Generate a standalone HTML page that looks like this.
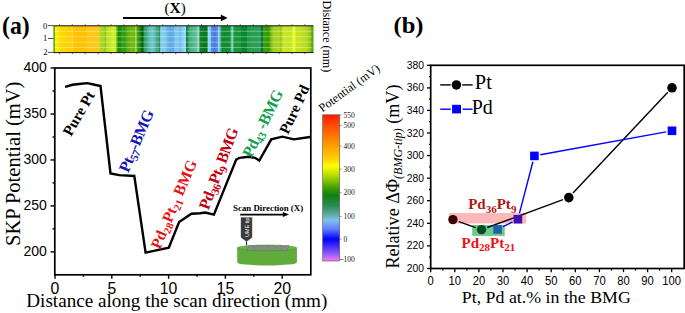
<!DOCTYPE html>
<html><head><meta charset="utf-8">
<style>
html,body{margin:0;padding:0;background:#fff;}
body{width:685px;height:313px;overflow:hidden;}
svg{display:block;}
.serif{font-family:"Liberation Serif",serif;}
.sans{font-family:"Liberation Sans",sans-serif;}
</style></head><body>
<svg width="685" height="313" viewBox="0 0 685 313">
<defs>
<linearGradient id="strip" x1="53.4" x2="313.7" y1="0" y2="0" gradientUnits="userSpaceOnUse">
<stop offset="0.0000" stop-color="#3c9a10"/>
<stop offset="0.0046" stop-color="#6cb000"/>
<stop offset="0.0081" stop-color="#ffee10"/>
<stop offset="0.0234" stop-color="#ffe408"/>
<stop offset="0.0292" stop-color="#ffd800"/>
<stop offset="0.0676" stop-color="#ffcf00"/>
<stop offset="0.0753" stop-color="#ffc400"/>
<stop offset="0.1214" stop-color="#ffbf00"/>
<stop offset="0.1291" stop-color="#ffc810"/>
<stop offset="0.1733" stop-color="#fdc818"/>
<stop offset="0.1783" stop-color="#c0dc20"/>
<stop offset="0.1809" stop-color="#a8d820"/>
<stop offset="0.1944" stop-color="#a4d41e"/>
<stop offset="0.1990" stop-color="#8cc418"/>
<stop offset="0.2040" stop-color="#b8e020"/>
<stop offset="0.2174" stop-color="#c4e626"/>
<stop offset="0.2290" stop-color="#d4f030"/>
<stop offset="0.2386" stop-color="#c8ea28"/>
<stop offset="0.2443" stop-color="#60b010"/>
<stop offset="0.2501" stop-color="#149010"/>
<stop offset="0.2578" stop-color="#1a900f"/>
<stop offset="0.2655" stop-color="#40a010"/>
<stop offset="0.2731" stop-color="#309810"/>
<stop offset="0.2847" stop-color="#58b010"/>
<stop offset="0.2981" stop-color="#70b810"/>
<stop offset="0.3135" stop-color="#70b810"/>
<stop offset="0.3173" stop-color="#98cc38"/>
<stop offset="0.3212" stop-color="#50a810"/>
<stop offset="0.3289" stop-color="#289410"/>
<stop offset="0.3365" stop-color="#108010"/>
<stop offset="0.3415" stop-color="#005800"/>
<stop offset="0.3465" stop-color="#207a40"/>
<stop offset="0.3500" stop-color="#30a070"/>
<stop offset="0.3577" stop-color="#40a880"/>
<stop offset="0.3692" stop-color="#60c0b0"/>
<stop offset="0.3807" stop-color="#70c8d0"/>
<stop offset="0.3922" stop-color="#58b4a8"/>
<stop offset="0.3980" stop-color="#40a880"/>
<stop offset="0.4057" stop-color="#40a080"/>
<stop offset="0.4088" stop-color="#208050"/>
<stop offset="0.4118" stop-color="#80d0e8"/>
<stop offset="0.4287" stop-color="#80cce8"/>
<stop offset="0.4364" stop-color="#70b8e8"/>
<stop offset="0.4479" stop-color="#60a8e8"/>
<stop offset="0.4614" stop-color="#64acea"/>
<stop offset="0.4672" stop-color="#80c8f0"/>
<stop offset="0.4806" stop-color="#80c8f0"/>
<stop offset="0.4864" stop-color="#70b8f0"/>
<stop offset="0.4979" stop-color="#88d0f0"/>
<stop offset="0.5075" stop-color="#90e0f0"/>
<stop offset="0.5106" stop-color="#107040"/>
<stop offset="0.5152" stop-color="#208850"/>
<stop offset="0.5209" stop-color="#40a870"/>
<stop offset="0.5363" stop-color="#50b890"/>
<stop offset="0.5498" stop-color="#60c0a0"/>
<stop offset="0.5555" stop-color="#90d0b0"/>
<stop offset="0.5601" stop-color="#60b080"/>
<stop offset="0.5643" stop-color="#108028"/>
<stop offset="0.5882" stop-color="#007820"/>
<stop offset="0.5920" stop-color="#40a070"/>
<stop offset="0.5959" stop-color="#90e0f0"/>
<stop offset="0.6035" stop-color="#80c8f0"/>
<stop offset="0.6074" stop-color="#5888e8"/>
<stop offset="0.6208" stop-color="#4878e0"/>
<stop offset="0.6304" stop-color="#5c90e8"/>
<stop offset="0.6343" stop-color="#90d0f0"/>
<stop offset="0.6400" stop-color="#70c0c0"/>
<stop offset="0.6431" stop-color="#40a080"/>
<stop offset="0.6477" stop-color="#108a30"/>
<stop offset="0.6784" stop-color="#109030"/>
<stop offset="0.6823" stop-color="#50b090"/>
<stop offset="0.6873" stop-color="#80d8d0"/>
<stop offset="0.6911" stop-color="#50b080"/>
<stop offset="0.6957" stop-color="#189838"/>
<stop offset="0.7188" stop-color="#189838"/>
<stop offset="0.7226" stop-color="#0a8530"/>
<stop offset="0.7418" stop-color="#0a8530"/>
<stop offset="0.7457" stop-color="#209848"/>
<stop offset="0.7630" stop-color="#28a050"/>
<stop offset="0.7879" stop-color="#28a050"/>
<stop offset="0.7918" stop-color="#30a070"/>
<stop offset="0.7956" stop-color="#2a9060"/>
<stop offset="0.7995" stop-color="#107040"/>
<stop offset="0.8045" stop-color="#107038"/>
<stop offset="0.8071" stop-color="#30a010"/>
<stop offset="0.8167" stop-color="#40a000"/>
<stop offset="0.8244" stop-color="#309000"/>
<stop offset="0.8321" stop-color="#58a808"/>
<stop offset="0.8379" stop-color="#80c010"/>
<stop offset="0.8456" stop-color="#a0d020"/>
<stop offset="0.8609" stop-color="#a8d420"/>
<stop offset="0.8667" stop-color="#b0d820"/>
<stop offset="0.8725" stop-color="#98c818"/>
<stop offset="0.8782" stop-color="#a8d41e"/>
<stop offset="0.8821" stop-color="#c8e828"/>
<stop offset="0.9013" stop-color="#c4e626"/>
<stop offset="0.9166" stop-color="#c8e828"/>
<stop offset="0.9216" stop-color="#e8ff30"/>
<stop offset="0.9274" stop-color="#e4fa2c"/>
<stop offset="0.9320" stop-color="#c8e420"/>
<stop offset="0.9474" stop-color="#c4e220"/>
<stop offset="0.9666" stop-color="#b8dc20"/>
<stop offset="0.9781" stop-color="#a8d41c"/>
<stop offset="0.9877" stop-color="#88c418"/>
<stop offset="0.9927" stop-color="#58a810"/>
<stop offset="1.0000" stop-color="#48a010"/>
</linearGradient>
<linearGradient id="cbar" x1="0" x2="0" y1="114.8" y2="261" gradientUnits="userSpaceOnUse">
<stop offset="0" stop-color="#ff1a00"/>
<stop offset="0.07" stop-color="#ff4a00"/>
<stop offset="0.215" stop-color="#ffa000"/>
<stop offset="0.3" stop-color="#ffd000"/>
<stop offset="0.35" stop-color="#ffff00"/>
<stop offset="0.42" stop-color="#b0d800"/>
<stop offset="0.5" stop-color="#40a000"/>
<stop offset="0.55" stop-color="#108010"/>
<stop offset="0.62" stop-color="#2a8a50"/>
<stop offset="0.68" stop-color="#60a8a0"/>
<stop offset="0.72" stop-color="#80c0e8"/>
<stop offset="0.78" stop-color="#6080ff"/>
<stop offset="0.85" stop-color="#0000ff"/>
<stop offset="0.92" stop-color="#6040ff"/>
<stop offset="1" stop-color="#f080f0"/>
</linearGradient>
</defs>

<!-- ===== Panel (a) ===== -->
<text id="a_lbl" class="serif" x="2" y="34.3" font-size="24.5" font-weight="bold" textLength="27.8" lengthAdjust="spacingAndGlyphs">(a)</text>

<!-- (X) arrow -->
<text id="x_lbl" class="serif" x="164.6" y="12.6" font-size="15">(<tspan font-weight="bold" font-size="15.5">X</tspan>)</text>
<line x1="123" y1="18" x2="222" y2="18" stroke="#000" stroke-width="1.8"/>
<polygon points="220.8,14.4 227.6,17.9 220.8,21.3" fill="#000"/>

<!-- strip -->
<rect x="53.4" y="25.8" width="260.1" height="26.8" fill="url(#strip)"/>
<g stroke="#fff" stroke-opacity="0.38" stroke-width="0.9">
<line x1="54.5" y1="31.3" x2="312.5" y2="31.3"/>
<line x1="54.5" y1="36.7" x2="312.5" y2="36.7"/>
<line x1="54.5" y1="42.1" x2="312.5" y2="42.1"/>
<line x1="54.5" y1="47.5" x2="312.5" y2="47.5"/>
<line x1="72.2" y1="26" x2="72.2" y2="52.4"/>
<line x1="135.8" y1="26" x2="135.8" y2="52.4"/>
<line x1="198.3" y1="26" x2="198.3" y2="52.4"/>
</g>
<g stroke="#333" stroke-width="0.7">
<line x1="59.4" y1="52.6" x2="59.4" y2="54.2"/><line x1="59.4" y1="24.2" x2="59.4" y2="25.8"/>
<line x1="72.3" y1="52.6" x2="72.3" y2="54.2"/><line x1="72.3" y1="24.2" x2="72.3" y2="25.8"/>
<line x1="85.2" y1="52.6" x2="85.2" y2="54.2"/><line x1="85.2" y1="24.2" x2="85.2" y2="25.8"/>
<line x1="98.2" y1="52.6" x2="98.2" y2="54.2"/><line x1="98.2" y1="24.2" x2="98.2" y2="25.8"/>
<line x1="111.1" y1="52.6" x2="111.1" y2="54.2"/><line x1="111.1" y1="24.2" x2="111.1" y2="25.8"/>
<line x1="124.0" y1="52.6" x2="124.0" y2="54.2"/><line x1="124.0" y1="24.2" x2="124.0" y2="25.8"/>
<line x1="136.9" y1="52.6" x2="136.9" y2="54.2"/><line x1="136.9" y1="24.2" x2="136.9" y2="25.8"/>
<line x1="149.8" y1="52.6" x2="149.8" y2="54.2"/><line x1="149.8" y1="24.2" x2="149.8" y2="25.8"/>
<line x1="162.8" y1="52.6" x2="162.8" y2="54.2"/><line x1="162.8" y1="24.2" x2="162.8" y2="25.8"/>
<line x1="175.7" y1="52.6" x2="175.7" y2="54.2"/><line x1="175.7" y1="24.2" x2="175.7" y2="25.8"/>
<line x1="188.6" y1="52.6" x2="188.6" y2="54.2"/><line x1="188.6" y1="24.2" x2="188.6" y2="25.8"/>
<line x1="201.5" y1="52.6" x2="201.5" y2="54.2"/><line x1="201.5" y1="24.2" x2="201.5" y2="25.8"/>
<line x1="214.4" y1="52.6" x2="214.4" y2="54.2"/><line x1="214.4" y1="24.2" x2="214.4" y2="25.8"/>
<line x1="227.4" y1="52.6" x2="227.4" y2="54.2"/><line x1="227.4" y1="24.2" x2="227.4" y2="25.8"/>
<line x1="240.3" y1="52.6" x2="240.3" y2="54.2"/><line x1="240.3" y1="24.2" x2="240.3" y2="25.8"/>
<line x1="253.2" y1="52.6" x2="253.2" y2="54.2"/><line x1="253.2" y1="24.2" x2="253.2" y2="25.8"/>
<line x1="266.1" y1="52.6" x2="266.1" y2="54.2"/><line x1="266.1" y1="24.2" x2="266.1" y2="25.8"/>
<line x1="279.0" y1="52.6" x2="279.0" y2="54.2"/><line x1="279.0" y1="24.2" x2="279.0" y2="25.8"/>
<line x1="292.0" y1="52.6" x2="292.0" y2="54.2"/><line x1="292.0" y1="24.2" x2="292.0" y2="25.8"/>
<line x1="304.9" y1="52.6" x2="304.9" y2="54.2"/><line x1="304.9" y1="24.2" x2="304.9" y2="25.8"/>
</g>
<line x1="53.4" y1="25.8" x2="313.5" y2="25.8" stroke="#111" stroke-width="1"/>
<line x1="53.4" y1="52.6" x2="313.5" y2="52.6" stroke="#111" stroke-width="1"/>
<g stroke="#222" stroke-width="0.8">
<line x1="48" y1="25.6" x2="53.4" y2="25.6"/>
<line x1="48" y1="38.5" x2="53.4" y2="38.5"/>
<line x1="48" y1="52.4" x2="53.4" y2="52.4"/>
</g>
<g class="serif" font-size="8.6" text-anchor="end" fill="#000">
<text x="47.4" y="29">0</text>
<text x="47.2" y="40.7">1</text>
<text x="47.6" y="54.6">2</text>
</g>
<text id="dist" class="serif" font-size="12" transform="translate(322.8,0.5) rotate(90)">Distance (mm)</text>

<!-- main axes (a) -->
<g stroke="#000" stroke-width="1.7" fill="none">
<rect x="54.8" y="68" width="256" height="206.8"/>
</g>
<g stroke="#000" stroke-width="1.4">
<!-- y major -->
<line x1="50.5" y1="68" x2="55" y2="68"/>
<line x1="50.5" y1="114" x2="55" y2="114"/>
<line x1="50.5" y1="159.95" x2="55" y2="159.95"/>
<line x1="50.5" y1="205.9" x2="55" y2="205.9"/>
<line x1="50.5" y1="251.9" x2="55" y2="251.9"/>
<!-- y minor -->
<line x1="52.5" y1="91" x2="55" y2="91"/>
<line x1="52.5" y1="137" x2="55" y2="137"/>
<line x1="52.5" y1="182.9" x2="55" y2="182.9"/>
<line x1="52.5" y1="228.9" x2="55" y2="228.9"/>
<!-- x major -->
<line x1="55" y1="274.8" x2="55" y2="278.8"/>
<line x1="111.8" y1="274.8" x2="111.8" y2="278.8"/>
<line x1="168.6" y1="274.8" x2="168.6" y2="278.8"/>
<line x1="225.4" y1="274.8" x2="225.4" y2="278.8"/>
<line x1="282.2" y1="274.8" x2="282.2" y2="278.8"/>
<!-- x minor -->
<line x1="83.4" y1="274.8" x2="83.4" y2="276.8"/>
<line x1="140.2" y1="274.8" x2="140.2" y2="276.8"/>
<line x1="197" y1="274.8" x2="197" y2="276.8"/>
<line x1="253.8" y1="274.8" x2="253.8" y2="276.8"/>
</g>
<g class="sans" font-size="14" text-anchor="end">
<text x="46.9" y="72">400</text>
<text x="46.9" y="118">350</text>
<text x="46.9" y="164">300</text>
<text x="46.9" y="209.9">250</text>
<text x="46.9" y="255.9">200</text>
</g>
<g class="sans" font-size="15.8" text-anchor="middle">
<text x="55" y="293.7">0</text>
<text x="111.8" y="293.7">5</text>
<text x="168.6" y="293.7">10</text>
<text x="225.4" y="293.7">15</text>
<text x="282.2" y="293.7">20</text>
</g>
<text id="xl_a" class="serif" font-size="18" x="26.3" y="307" textLength="301" lengthAdjust="spacingAndGlyphs">Distance along the scan direction (mm)</text>
<text id="skp" class="serif" font-size="20.5" transform="translate(19.5,246) rotate(-90)">SKP Potential (mV)</text>

<!-- curve -->
<polyline fill="none" stroke="#000" stroke-width="2.4" stroke-linejoin="miter" points="65.1,86.8 72.5,84.8 81.3,83.8 87.4,83.1 93.5,84.5 100.5,86 110.5,173.4 119.2,175.1 134.3,176 145.6,252.6 168.8,247.8 179.1,222 191.4,213.7 200.2,213.2 205.2,212.5 213.9,214.7 236.2,159.6 239.6,157.8 248.5,156.7 255,157.8 259.3,160.5 271.3,139.4 282.4,136.7 293.9,139.4 310,137"/>

<!-- annotations -->
<g class="serif" font-weight="bold" font-size="15">
<text id="t1" transform="translate(71,137) rotate(-60)">Pure Pt</text>
<text id="t2" fill="#1515b5" font-size="16" textLength="66" lengthAdjust="spacing" transform="translate(128.3,173.3) rotate(-67)">Pt<tspan font-size="11.3" dy="3.3">57</tspan><tspan dy="-3.3">-BMG</tspan></text>
<text id="t3" fill="#e81010" font-size="15.6" transform="translate(160,250) rotate(-67)">Pd<tspan font-size="10.5" dy="3">28</tspan><tspan dy="-3">Pt</tspan><tspan font-size="10.5" dy="3">21</tspan><tspan dy="-3"> BMG</tspan></text>
<text id="t4" fill="#c00010" font-size="15.8" textLength="86" lengthAdjust="spacing" transform="translate(208.5,210.5) rotate(-69.5)">Pd<tspan font-size="11.2" dy="3.3">36</tspan><tspan dy="-3.3">Pt</tspan><tspan font-size="11.2" dy="3.3">9</tspan><tspan dy="-3.3"> BMG</tspan></text>
<text id="t5" fill="#12a04e" font-size="16" textLength="73" lengthAdjust="spacing" transform="translate(251.5,158.5) rotate(-64)">Pd<tspan font-size="11.3" dy="3.3">43</tspan><tspan dy="-3.3"> -BMG</tspan></text>
<text id="t6" transform="translate(288,135) rotate(-65)">Pure Pd</text>
</g>

<!-- inset -->
<text id="scan" class="serif" font-size="9.2" font-weight="bold" x="233.1" y="211.4" textLength="70" lengthAdjust="spacingAndGlyphs">Scan Direction (X)</text>
<line x1="240.2" y1="214.6" x2="284" y2="214.6" stroke="#000" stroke-width="1.7"/>
<polygon points="282.9,212.1 289,214.6 282.9,217.1" fill="#000"/>
<path d="M241,217.5 H252 V237.4 L246.6,241.6 L241,237.4 Z" fill="#3a3a3a" stroke="#666" stroke-width="0.5"/>
<text class="sans" font-size="5.5" fill="#fff" transform="translate(248.5,237) rotate(-90)">UME tip</text>
<line x1="246.6" y1="241.6" x2="246.6" y2="245.5" stroke="#000" stroke-width="0.9"/>
<path d="M237.2,248 V262.5 A29.85,3 0 0 0 296.9,262.5 V248 Z" fill="#60ab3c"/>
<ellipse cx="267" cy="248" rx="29.85" ry="3" fill="#64b446" stroke="#4a9030" stroke-width="0.5"/>
<g fill="#8a8a8a" stroke="#6a6a6a" stroke-width="0.4">
<polygon points="247,250.5 252,250.5 254,245.5 249,245.5"/>
<polygon points="254,250.5 259,250.5 261,245.5 256,245.5"/>
<polygon points="261,250.5 266,250.5 268,245.5 263,245.5"/>
<polygon points="268,250.5 273,250.5 275,245.5 270,245.5"/>
<polygon points="275,250.5 280,250.5 282,245.5 277,245.5"/>
<polygon points="282,250.5 287,250.5 289,245.5 284,245.5"/>
</g>

<!-- colorbar -->
<rect x="322.7" y="114.8" width="17" height="146.2" fill="url(#cbar)" stroke="#555" stroke-width="0.6"/>
<g stroke="#444" stroke-width="0.6">
<line x1="339.7" y1="114.8" x2="341.5" y2="114.8"/>
<line x1="339.7" y1="125.5" x2="341.5" y2="125.5"/>
<line x1="339.7" y1="146.2" x2="341.5" y2="146.2"/>
<line x1="339.7" y1="169.2" x2="341.5" y2="169.2"/>
<line x1="339.7" y1="192.7" x2="341.5" y2="192.7"/>
<line x1="339.7" y1="216.4" x2="341.5" y2="216.4"/>
<line x1="339.7" y1="239.1" x2="341.5" y2="239.1"/>
<line x1="339.7" y1="259.5" x2="341.5" y2="259.5"/>
</g>
<g class="serif" font-size="7.5" fill="#222">
<text x="343.5" y="117.5">550</text>
<text x="343.5" y="128.2">500</text>
<text x="343.5" y="148.9">400</text>
<text x="343.5" y="171.9">300</text>
<text x="343.5" y="195.4">200</text>
<text x="343.5" y="219.1">100</text>
<text x="343.5" y="241.8">0</text>
<text x="341" y="262.2">-100</text>
</g>
<text id="pot" class="serif" font-size="12.1" transform="translate(322.3,112.5) rotate(-36)">Potential (mV)</text>

<!-- ===== Panel (b) ===== -->
<text id="b_lbl" class="serif" x="393.5" y="33" font-size="23.5" font-weight="bold" textLength="30" lengthAdjust="spacingAndGlyphs">(b)</text>
<rect x="430.7" y="65.3" width="253.5" height="203.2" fill="none" stroke="#000" stroke-width="1.7"/>
<g stroke="#000" stroke-width="1.3">
<line x1="427" y1="65.3" x2="430.7" y2="65.3"/>
<line x1="427" y1="87.9" x2="430.7" y2="87.9"/>
<line x1="427" y1="110.4" x2="430.7" y2="110.4"/>
<line x1="427" y1="133" x2="430.7" y2="133"/>
<line x1="427" y1="155.6" x2="430.7" y2="155.6"/>
<line x1="427" y1="178.2" x2="430.7" y2="178.2"/>
<line x1="427" y1="200.7" x2="430.7" y2="200.7"/>
<line x1="427" y1="223.3" x2="430.7" y2="223.3"/>
<line x1="427" y1="245.9" x2="430.7" y2="245.9"/>
<line x1="427" y1="268.5" x2="430.7" y2="268.5"/>
<line x1="429" y1="76.6" x2="430.7" y2="76.6"/>
<line x1="429" y1="99.2" x2="430.7" y2="99.2"/>
<line x1="429" y1="121.7" x2="430.7" y2="121.7"/>
<line x1="429" y1="144.3" x2="430.7" y2="144.3"/>
<line x1="429" y1="166.9" x2="430.7" y2="166.9"/>
<line x1="429" y1="189.5" x2="430.7" y2="189.5"/>
<line x1="429" y1="212" x2="430.7" y2="212"/>
<line x1="429" y1="234.6" x2="430.7" y2="234.6"/>
<line x1="429" y1="257.2" x2="430.7" y2="257.2"/>
</g>
<g stroke="#000" stroke-width="1.3">
<line x1="430.7" y1="268.5" x2="430.7" y2="272.2"/>
<line x1="454.8" y1="268.5" x2="454.8" y2="272.2"/>
<line x1="478.9" y1="268.5" x2="478.9" y2="272.2"/>
<line x1="503.0" y1="268.5" x2="503.0" y2="272.2"/>
<line x1="527.1" y1="268.5" x2="527.1" y2="272.2"/>
<line x1="551.2" y1="268.5" x2="551.2" y2="272.2"/>
<line x1="575.3" y1="268.5" x2="575.3" y2="272.2"/>
<line x1="599.4" y1="268.5" x2="599.4" y2="272.2"/>
<line x1="623.5" y1="268.5" x2="623.5" y2="272.2"/>
<line x1="647.6" y1="268.5" x2="647.6" y2="272.2"/>
<line x1="671.7" y1="268.5" x2="671.7" y2="272.2"/>
<line x1="442.8" y1="268.5" x2="442.8" y2="270.5"/>
<line x1="466.9" y1="268.5" x2="466.9" y2="270.5"/>
<line x1="490.9" y1="268.5" x2="490.9" y2="270.5"/>
<line x1="515.0" y1="268.5" x2="515.0" y2="270.5"/>
<line x1="539.1" y1="268.5" x2="539.1" y2="270.5"/>
<line x1="563.2" y1="268.5" x2="563.2" y2="270.5"/>
<line x1="587.4" y1="268.5" x2="587.4" y2="270.5"/>
<line x1="611.5" y1="268.5" x2="611.5" y2="270.5"/>
<line x1="635.5" y1="268.5" x2="635.5" y2="270.5"/>
<line x1="659.6" y1="268.5" x2="659.6" y2="270.5"/>
</g>
<g class="sans" font-size="11.5" text-anchor="end">
<text x="424" y="68.8" textLength="17.2" lengthAdjust="spacingAndGlyphs">380</text>
<text x="424" y="91.4" textLength="17.2" lengthAdjust="spacingAndGlyphs">360</text>
<text x="424" y="114.0" textLength="17.2" lengthAdjust="spacingAndGlyphs">340</text>
<text x="424" y="136.5" textLength="17.2" lengthAdjust="spacingAndGlyphs">320</text>
<text x="424" y="159.1" textLength="17.2" lengthAdjust="spacingAndGlyphs">300</text>
<text x="424" y="181.7" textLength="17.2" lengthAdjust="spacingAndGlyphs">280</text>
<text x="424" y="204.3" textLength="17.2" lengthAdjust="spacingAndGlyphs">260</text>
<text x="424" y="226.9" textLength="17.2" lengthAdjust="spacingAndGlyphs">240</text>
<text x="424" y="249.4" textLength="17.2" lengthAdjust="spacingAndGlyphs">220</text>
<text x="424" y="272.0" textLength="17.2" lengthAdjust="spacingAndGlyphs">200</text>
</g>
<g class="sans" font-size="12.8" text-anchor="middle">
<text x="430.7" y="284.6" textLength="6.25" lengthAdjust="spacingAndGlyphs">0</text>
<text x="454.8" y="284.6" textLength="12.50" lengthAdjust="spacingAndGlyphs">10</text>
<text x="478.9" y="284.6" textLength="12.50" lengthAdjust="spacingAndGlyphs">20</text>
<text x="503.0" y="284.6" textLength="12.50" lengthAdjust="spacingAndGlyphs">30</text>
<text x="527.1" y="284.6" textLength="12.50" lengthAdjust="spacingAndGlyphs">40</text>
<text x="551.2" y="284.6" textLength="12.50" lengthAdjust="spacingAndGlyphs">50</text>
<text x="575.3" y="284.6" textLength="12.50" lengthAdjust="spacingAndGlyphs">60</text>
<text x="599.4" y="284.6" textLength="12.50" lengthAdjust="spacingAndGlyphs">70</text>
<text x="623.5" y="284.6" textLength="12.50" lengthAdjust="spacingAndGlyphs">80</text>
<text x="647.6" y="284.6" textLength="12.50" lengthAdjust="spacingAndGlyphs">90</text>
<text x="671.7" y="284.6" textLength="18.75" lengthAdjust="spacingAndGlyphs">100</text>
</g>
<text id="xl_b" class="serif" font-size="17.5" x="461.8" y="302.8" textLength="169" lengthAdjust="spacingAndGlyphs">Pt, Pd at.% in the BMG</text>
<text id="yl_b" class="serif" font-size="18.1" transform="translate(398.5,268.6) rotate(-90)">Relative ΔΦ<tspan font-size="12" font-style="italic" dy="3.6">(BMG-tip)</tspan><tspan dy="-3.6"> (mV)</tspan></text>

<!-- legend -->
<g stroke="#000" stroke-width="1.4"><line x1="440.2" y1="84.9" x2="450.8" y2="84.9"/><line x1="462.2" y1="84.9" x2="472.6" y2="84.9"/></g>
<circle cx="456.4" cy="84.9" r="4.75" fill="#000"/>
<text id="lg1" class="serif" font-size="20" x="474.8" y="89" textLength="17" lengthAdjust="spacingAndGlyphs">Pt</text>
<g stroke="#0000ff" stroke-width="1.4"><line x1="440.2" y1="109.2" x2="450.8" y2="109.2"/><line x1="462.6" y1="109.2" x2="472.6" y2="109.2"/></g>
<rect x="452.1" y="104.8" width="8.9" height="8.6" fill="#0000ff"/>
<text id="lg2" class="serif" font-size="20" x="471.8" y="114.2" textLength="21" lengthAdjust="spacingAndGlyphs">Pd</text>

<!-- highlight rects -->
<rect x="448.9" y="213.1" width="77.2" height="10.4" fill="#f9b9b9"/>
<rect x="472.2" y="225" width="32.5" height="10.9" fill="#6ec88c"/>

<!-- data lines -->
<g stroke="#000" stroke-width="1.4"><line x1="458.8" y1="221.6" x2="475.6" y2="227.6"/><line x1="487.3" y1="227.5" x2="563.0" y2="199.7"/><line x1="573.0" y1="193.1" x2="667.8" y2="92.3"/></g>
<g stroke="#0000ff" stroke-width="1.4"><line x1="503.0" y1="226.7" x2="512.5" y2="221.9"/><line x1="519.4" y1="213.4" x2="532.9" y2="161.7"/><line x1="540.3" y1="154.8" x2="666.1" y2="131.9"/></g>
<circle cx="452.9" cy="219.6" r="4.7" fill="#3a0008"/>
<circle cx="481.5" cy="229.6" r="4.7" fill="#0a4a20"/>
<circle cx="568.8" cy="197.6" r="4.8" fill="#000"/>
<circle cx="672" cy="87.8" r="4.8" fill="#000"/>
<rect x="493.3" y="225.1" width="8.6" height="8.6" fill="#1d5fab"/>
<rect x="513.6" y="214.9" width="8.6" height="8.6" fill="#3d0fb5"/>
<rect x="530.1" y="151.6" width="8.6" height="8.6" fill="#0000ff"/>
<rect x="667.7" y="126.5" width="8.6" height="8.6" fill="#0000ff"/>

<g class="serif" font-weight="bold" font-size="15">
<text id="p36" fill="#b01818" x="468.2" y="209.2">Pd<tspan font-size="11" dy="3.3">36</tspan><tspan dy="-3.3">Pt</tspan><tspan font-size="11" dy="3.3">9</tspan></text>
<text id="p28" fill="#f01010" x="461.6" y="248">Pd<tspan font-size="11" dy="3.3">28</tspan><tspan dy="-3.3">Pt</tspan><tspan font-size="11" dy="3.3">21</tspan></text>
</g>
</svg>
</body></html>
